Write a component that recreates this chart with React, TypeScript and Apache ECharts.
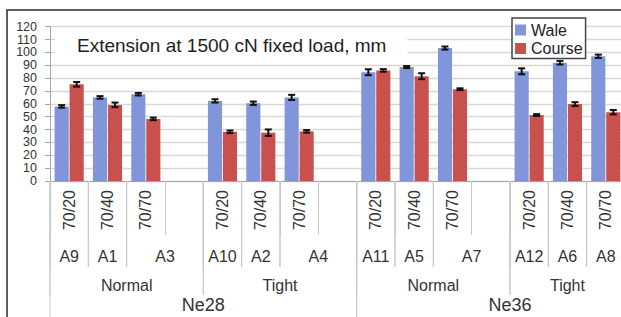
import React, { useEffect, useRef } from "react";
import * as echarts from "echarts";

// ---- data ----
const slotLabels = [
  "70/20", "70/40", "70/70", "",
  "70/20", "70/40", "70/70", "",
  "70/20", "70/40", "70/70", "",
  "70/20", "70/40", "70/70", "",
];
const waleValues = [58, 65, 67.5, null, 62.3, 60.5, 65, null, 84.6, 88.6, 103.4, null, 85.3, 92, 97, null];
const courseValues = [75.2, 59.2, 48.3, null, 38.3, 37.6, 38.6, null, 86, 81.5, 71.4, null, 51.3, 59.8, 53.5, null];
const waleErrors = [1, 1, 1, null, 1.3, 1.3, 2, null, 2.3, 0.8, 1.2, null, 2.3, 1.4, 1.3, null];
const courseErrors = [1.8, 1.8, 1, null, 1, 2.5, 1, null, 1, 2.3, 0.7, null, 0.7, 1.5, 1.7, null];

const fabricLabels = ["A9", "A1", "A3", "A10", "A2", "A4", "A11", "A5", "A7", "A12", "A6", "A8"];
const fabricSpans = [1, 1, 2, 1, 1, 2, 1, 1, 2, 1, 1, 1];
const tightnessLabels = ["Normal", "Tight", "Normal", "Tight"];
const tightnessSpans = [4, 4, 4, 3];
const yarnLabels = ["Ne28", "Ne36"];
const yarnSpans = [8, 8];

const seriesNames = ["Wale", "Course"];
const titleText = "Extension at 1500 cN fixed load, mm";
const yMin = 0;
const yMax = 120;
const yStep = 10;

// ---- styling ----
const FONT = "'Liberation Sans', Arial, sans-serif";
const TEXT = "#333333";
const WALE = "#8196da";
const COURSE = "#c8514e";
const SEP = "#c9c9c9";
const BAR_CAT_GAP = 0.24;
const BAR_GAP = 0.06;

function buildLevel(labels: string[], spans: number[], level: number) {
  const out: any[] = [];
  let start = 0;
  labels.forEach((l, i) => {
    out.push({ name: l, value: [start, spans[i], level] });
    start += spans[i];
  });
  return out;
}

const hierarchyData = [
  ...buildLevel(fabricLabels, fabricSpans, 1),
  ...buildLevel(tightnessLabels, tightnessSpans, 2),
  ...buildLevel(yarnLabels, yarnSpans, 3),
];

function errData(values: (number | null)[], errs: (number | null)[]) {
  const out: any[] = [];
  values.forEach((v, i) => {
    if (v != null && errs[i] != null) out.push([i, v, errs[i]]);
  });
  return out;
}

function makeErrRender(sign: number) {
  return (params: any, api: any) => {
    const i = api.value(0);
    const v = api.value(1);
    const e = api.value(2);
    const band = api.size([1, 0])[0];
    const bw = (band * (1 - BAR_CAT_GAP)) / (2 + BAR_GAP);
    const off = ((bw * (1 + BAR_GAP)) / 2) * sign;
    const x = api.coord([i, v])[0] + off;
    const yt = api.coord([i, v + e])[1];
    const yb = api.coord([i, v - e])[1];
    const cap = 3.5;
    const st = { stroke: "#111", lineWidth: 2 };
    return {
      type: "group",
      children: [
        { type: "line", shape: { x1: x, y1: yt, x2: x, y2: yb }, style: st },
        { type: "line", shape: { x1: x - cap, y1: yt, x2: x + cap, y2: yt }, style: st },
        { type: "line", shape: { x1: x - cap, y1: yb, x2: x + cap, y2: yb }, style: st },
      ],
    };
  };
}

const levelLabelOffset: Record<number, number> = { 1: 75, 2: 104, 3: 124 };
const levelLineEnd: Record<number, number> = { 1: 86, 2: 114, 3: 160 };
const levelFont: Record<number, number> = { 1: 16, 2: 16, 3: 18 };

function renderHierarchy(params: any, api: any) {
  const start = api.value(0);
  const span = api.value(1);
  const level = api.value(2);
  const name = hierarchyData[params.dataIndex].name;
  const band = api.size([1, 0])[0];
  const base = api.coord([start, yMin]);
  const x0 = base[0] - band / 2;
  const x1 = x0 + span * band;
  const y0 = base[1];
  const st = { stroke: SEP, lineWidth: 1 };
  return {
    type: "group",
    children: [
      { type: "line", shape: { x1: x0, y1: y0, x2: x0, y2: y0 + levelLineEnd[level] }, style: st },
      { type: "line", shape: { x1: x1, y1: y0, x2: x1, y2: y0 + levelLineEnd[level] }, style: st },
      {
        type: "text",
        x: (x0 + x1) / 2,
        y: y0 + levelLabelOffset[level],
        style: {
          text: name,
          fill: TEXT,
          fontSize: levelFont[level],
          fontFamily: FONT,
          align: "center",
          verticalAlign: "middle",
        },
      },
    ],
  };
}

export default function App() {
  const ref = useRef<HTMLDivElement>(null);
  useEffect(() => {
    if (!ref.current) return;
    const chart = echarts.init(ref.current, null, { renderer: "svg" });
    chart.setOption({
      animation: false,
      backgroundColor: "#ffffff",
      textStyle: { fontFamily: FONT },
      title: {
        text: titleText,
        left: 55,
        top: 30,
        padding: [4, 21, 3, 22],
        backgroundColor: "#ffffff",
        textStyle: { fontSize: 19, fontWeight: "normal", color: "#1e1e1e", fontFamily: FONT, lineHeight: 23 },
      },
      legend: {
        data: seriesNames,
        orient: "vertical",
        left: 512,
        top: 18,
        padding: [4, 3, 2, 3],
        itemGap: 2.5,
        itemWidth: 11,
        itemHeight: 11,
        icon: "rect",
        borderColor: "#444",
        borderWidth: 1.5,
        borderRadius: 0,
        backgroundColor: "#ffffff",
        textStyle: { fontSize: 16, color: "#222", fontFamily: FONT, lineHeight: 16 },
      },
      grid: {
        left: 50,
        top: 26.7,
        width: 613.3,
        height: 154.3,
        containLabel: false,
        outerBoundsMode: "none",
      },
      xAxis: {
        type: "category",
        data: slotLabels,
        position: "bottom",
        axisLine: { show: true, lineStyle: { color: "#a6a6a6", width: 1 } },
        axisTick: { show: true, alignWithLabel: false, interval: 0, length: 54, lineStyle: { color: SEP } },
        axisLabel: { interval: 0, rotate: 90, margin: 9, fontSize: 16, color: TEXT, fontFamily: FONT },
        splitLine: { show: false },
      },
      yAxis: {
        type: "value",
        min: yMin,
        max: yMax,
        interval: yStep,
        axisLine: { show: true, lineStyle: { color: "#a6a6a6", width: 1 } },
        axisTick: { show: true, length: 5, lineStyle: { color: "#a6a6a6" } },
        axisLabel: { fontSize: 12.5, lineHeight: 12, margin: 13, color: TEXT, fontFamily: FONT },
        splitLine: { show: true, lineStyle: { color: "#ddd7d1", width: 1.3 } },
      },
      series: [
        {
          name: seriesNames[0],
          type: "bar",
          data: waleValues,
          itemStyle: { color: WALE },
          barCategoryGap: "24%",
          barGap: "6%",
        },
        {
          name: seriesNames[1],
          type: "bar",
          data: courseValues,
          itemStyle: { color: COURSE },
          barCategoryGap: "24%",
          barGap: "6%",
        },
        {
          type: "custom",
          data: errData(waleValues, waleErrors),
          renderItem: makeErrRender(-1),
          z: 5,
          silent: true,
          clip: false,
        },
        {
          type: "custom",
          data: errData(courseValues, courseErrors),
          renderItem: makeErrRender(1),
          z: 5,
          silent: true,
          clip: false,
        },
        {
          type: "custom",
          data: hierarchyData,
          renderItem: renderHierarchy,
          encode: { x: 0, y: 1 },
          silent: true,
          clip: false,
        },
      ],
      graphic: [
        {
          type: "rect",
          shape: { x: 7, y: 10, width: 900, height: 600 },
          style: { fill: "none", stroke: "#2b2b2b", lineWidth: 1.5 },
          silent: true,
          z: 100,
        },
      ],
    });
    return () => chart.dispose();
  }, []);
  return <div ref={ref} style={{ position: "absolute", left: 0, top: 0, width: 621, height: 317 }} />;
}
